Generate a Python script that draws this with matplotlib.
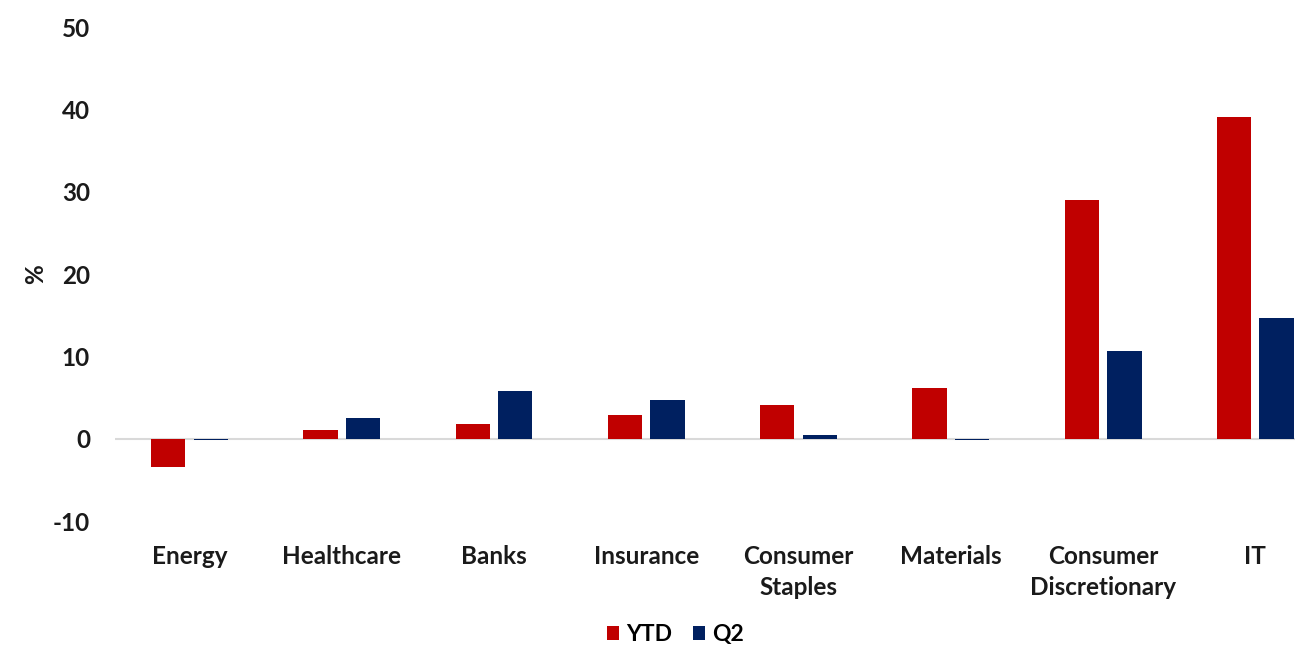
import matplotlib.pyplot as plt
import numpy as np

plt.rcParams['font.family'] = ['Lato', 'DejaVu Sans']
plt.rcParams['font.weight'] = 'bold'
plt.rcParams['axes.unicode_minus'] = False

# sector returns, %
sectors = ["Energy", "Healthcare", "Banks", "Insurance", "Consumer\nStaples",
           "Materials", "Consumer\nDiscretionary", "IT"]
ytd = [-3.4, 1.1, 1.8, 2.9, 4.1, 6.2, 29.0, 39.1]
q2 = [-0.2, 2.5, 5.8, 4.7, 0.5, -0.1, 10.7, 14.7]

red = "#C00000"
navy = "#002060"
txt = "#1a1a1a"
fs = 17.5

fig = plt.figure(figsize=(13.06, 6.45), dpi=100)
ax = fig.add_axes([0.088, 0.192, 0.9035, 0.766])

x = np.arange(len(sectors))
w = 0.225
ax.bar(x - 0.14, ytd, w, color=red, label="YTD", zorder=2)
ax.bar(x + 0.14, q2, w, color=navy, label="Q2", zorder=2)

ax.axhline(0, color="#d9d9d9", lw=1.5, zorder=1)
ax.set_xlim(-0.49, 7.26)
ax.set_ylim(-10, 50)
ax.set_yticks([-10, 0, 10, 20, 30, 40, 50])
ax.set_xticks(x)
ax.set_xticklabels(sectors, fontsize=fs, fontweight="bold", color=txt, linespacing=1.45)
ax.tick_params(axis="y", labelsize=fs, labelcolor=txt, length=0, pad=18)
ax.tick_params(axis="x", length=0, pad=17)
for s in ax.spines.values():
    s.set_visible(False)
ax.set_ylabel("%", fontsize=fs, fontweight="bold", color=txt, labelpad=4)

fig.legend(loc="center", bbox_to_anchor=(0.517, 0.016), ncol=2, frameon=False,
           fontsize=16.5, handlelength=0.55, handleheight=0.55, handletextpad=0.3,
           columnspacing=0.9)

fig.savefig("out.png", dpi=100)
